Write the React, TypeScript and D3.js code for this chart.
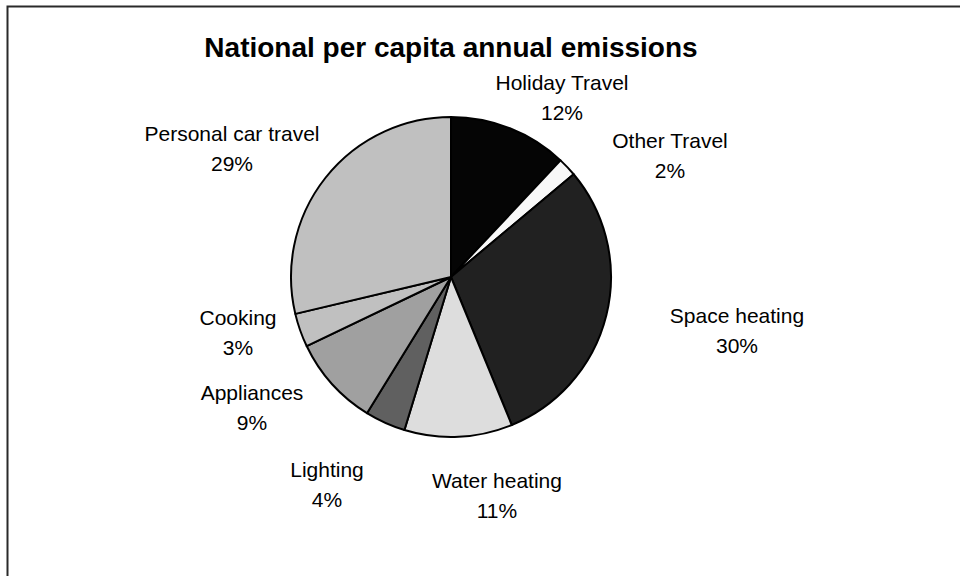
import React from "react";
import * as d3 from "d3";

const categories = [
  "Holiday Travel",
  "Other Travel",
  "Space heating",
  "Water heating",
  "Lighting",
  "Appliances",
  "Cooking",
  "Personal car travel",
];
const values = [12.0, 1.9, 29.9, 10.9, 4.1, 9.1, 3.4, 28.7];
const percentLabels = ["12%", "2%", "30%", "11%", "4%", "9%", "3%", "29%"];

// layout (not data)
const fills = ["#050505", "#f8f8f8", "#212121", "#dddddd", "#606060", "#a0a0a0", "#c0c0c0", "#c0c0c0"];
const labelX = [562, 670, 737, 497, 327, 252, 238, 232];
const labelY = [90, 148, 323, 488, 477, 400, 325, 141];

const W = 960;
const H = 576;
const CX = 451;
const CY = 277;
const R = 160;

export default function App() {
  const pie = d3.pie<number>().sort(null).value((d) => d)(values);
  const arc = d3.arc<d3.PieArcDatum<number>>().innerRadius(0).outerRadius(R);
  const font = "'Liberation Sans', Arial, sans-serif";
  return (
    <svg
      width={W}
      height={H}
      style={{ position: "absolute", left: 0, top: 0, display: "block", background: "#fff" }}
    >
      <rect x={7.5} y={6.5} width={1200} height={1200} fill="none" stroke="#2a2a2a" strokeWidth={2} />
      <text
        x={CX}
        y={57}
        textAnchor="middle"
        fontFamily={font}
        fontWeight="bold"
        fontSize={28}
        fill="#000"
      >
        National per capita annual emissions
      </text>
      <g transform={`translate(${CX},${CY})`}>
        {pie.map((p, i) => (
          <path
            key={categories[i]}
            d={arc(p) || ""}
            fill={fills[i]}
            stroke="#000"
            strokeWidth={2}
            strokeLinejoin="round"
          />
        ))}
      </g>
      {categories.map((c, i) => (
        <g key={c} fontFamily={font} fontSize={21} fill="#000" textAnchor="middle">
          <text x={labelX[i]} y={labelY[i]}>{c}</text>
          <text x={labelX[i]} y={labelY[i] + 29.5}>{percentLabels[i]}</text>
        </g>
      ))}
    </svg>
  );
}
